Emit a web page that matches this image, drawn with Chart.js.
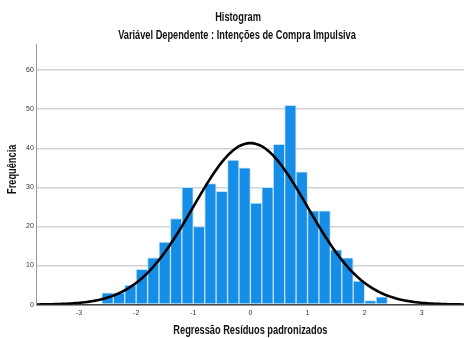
<!DOCTYPE html>
<html>
<head>
<meta charset="utf-8">
<script src="https://cdn.jsdelivr.net/npm/chart.js@4"></script>
<style>
  html, body { margin: 0; padding: 0; background: #fff; }
  #wrap { width: 464px; height: 338px; }
</style>
</head>
<body>
<div id="wrap"><canvas id="c" width="464" height="338"></canvas></div>
<script>
// Histogram bins of standardized residuals (width 0.2, starting at -2.6)
const binStart = -2.6;
const binWidth = 0.2;
const counts = [3, 3, 5, 9, 12, 16, 22, 30, 20, 31, 29, 37, 35, 26, 30, 41, 51, 34, 24, 24, 14, 12, 6, 1, 2];

// Normal curve parameters for the overlay
const curveMean = 0;
const curveSd = 0.998;

// Axis ticks
const xTicks = [-3, -2, -1, 0, 1, 2, 3];
const yTicks = [0, 10, 20, 30, 40, 50, 60];
const xMin = -3.74, xMax = 3.74, yMax = 66.7;

const titleLines = ['Histogram', 'Variável Dependente : Intenções de Compra Impulsiva'];
const xTitle = 'Regressão Resíduos padronizados';
const yTitle = 'Frequência';

const barData = counts.map((c, i) => ({ x: binStart + binWidth * (i + 0.5), y: c }));

const total = counts.reduce((a, b) => a + b, 0);
const curveData = [];
for (let x = xMin; x <= xMax + 1e-9; x += 0.04) {
  const z = (x - curveMean) / curveSd;
  const y = total * binWidth * Math.exp(-0.5 * z * z) / (curveSd * Math.sqrt(2 * Math.PI));
  curveData.push({ x: x, y: y });
}

const FONT = "'Liberation Sans', Arial, sans-serif";
const SQUEEZE = 0.77; // horizontal compression for a condensed look

// Draws the chart title and the axis titles in a condensed bold face
const condensedTitles = {
  id: 'condensedTitles',
  afterDraw(chart) {
    const ctx = chart.ctx;
    const a = chart.chartArea;
    const put = (text, x, y, size, rot) => {
      ctx.save();
      ctx.translate(x, y);
      if (rot) ctx.rotate(rot);
      ctx.scale(SQUEEZE, 1);
      ctx.font = 'bold ' + size + 'px ' + FONT;
      ctx.fillStyle = '#111';
      ctx.textAlign = 'center';
      ctx.textBaseline = 'middle';
      ctx.fillText(text, 0, 0);
      ctx.restore();
    };
    put(titleLines[0], 238, 18, 12);
    put(titleLines[1], 237, 36, 12);
    put(xTitle, (a.left + a.right) / 2, 331, 12);
    put(yTitle, 13, (a.top + a.bottom) / 2 - 5, 12, -Math.PI / 2);
  }
};

new Chart(document.getElementById('c'), {
  data: {
    datasets: [
      {
        type: 'line',
        data: curveData,
        borderColor: '#000',
        borderWidth: 2.6,
        pointRadius: 0,
        fill: false,
        tension: 0,
        order: 0
      },
      {
        type: 'bar',
        data: barData,
        backgroundColor: '#168de6',
        borderColor: 'rgba(190,225,250,0.95)',
        borderWidth: 1,
        borderSkipped: false,
        barPercentage: 1,
        categoryPercentage: 1,
        order: 1
      }
    ]
  },
  plugins: [condensedTitles],
  options: {
    responsive: false,
    animation: false,
    devicePixelRatio: 1,
    layout: { padding: { left: 23, right: 0, top: 44, bottom: 17 } },
    plugins: {
      legend: { display: false },
      tooltip: { enabled: false },
      title: { display: false }
    },
    scales: {
      x: {
        type: 'linear',
        min: xMin,
        max: xMax,
        offset: false,
        afterBuildTicks: (s) => { s.ticks = xTicks.map(v => ({ value: v })); },
        ticks: {
          color: '#333',
          font: { family: FONT, size: 7 },
          padding: 4,
          maxRotation: 0,
          autoSkip: false,
          callback: (v) => String(v)
        },
        grid: { display: false, drawTicks: false },
        border: { display: true, color: '#444', width: 1.5 }
      },
      y: {
        min: 0,
        max: yMax,
        afterBuildTicks: (s) => { s.ticks = yTicks.map(v => ({ value: v })); },
        ticks: {
          color: '#333',
          font: { family: FONT, size: 7 },
          padding: 3,
          callback: (v) => String(v)
        },
        grid: { color: '#d2d2d2', lineWidth: 1.5, drawTicks: false },
        border: { display: true, color: '#999', width: 1 }
      }
    }
  }
});
</script>
</body>
</html>
